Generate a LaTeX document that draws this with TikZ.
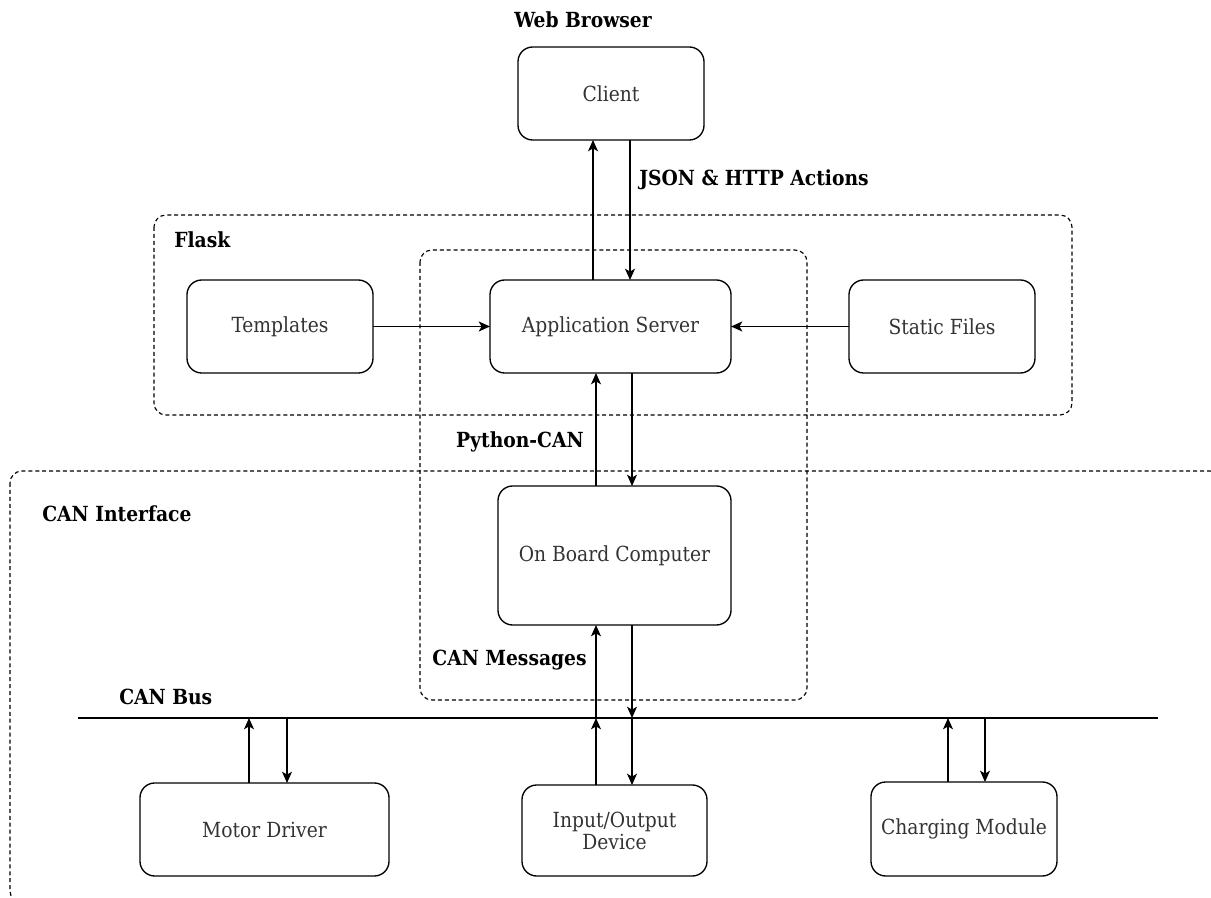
\documentclass[tikz,border=0pt]{standalone}
\usepackage{fontspec}
\setmainfont{DejaVu Serif Condensed}
\usetikzlibrary{arrows.meta}
\begin{document}
\begin{tikzpicture}[x=0.75pt,y=-0.75pt,
  box/.style={draw, line width=1pt, rounded corners=11pt, outer sep=0pt, inner sep=2pt,
    align=center, text=black!80, font=\fontsize{15.6}{16.5}\selectfont},
  group/.style={line width=0.85pt, dash pattern=on 3pt off 2.2pt, rounded corners=9pt},
  lbl/.style={font=\fontsize{15.6}{16.5}\selectfont\bfseries, inner sep=0pt},
  arr/.style={line width=1pt, -{Stealth[length=8.5pt,width=7.5pt,inset=2.2pt]}},
  busline/.style={line width=1pt}]
\useasboundingbox (0,0) rectangle (1211,898);
\clip (0,0) rectangle (1211,898);

% grouping frames
\draw[group] (154,215) rectangle (1072,415);
\draw[group] (420,250) rectangle (807,700);
\draw[group] (10,471) rectangle (1222,903);

% labels
\node[lbl] (wb) at (583,20) {Web Browser};
\node[lbl, anchor=west] (json) at (639,180) {JSON \& HTTP Actions};
\node[lbl, anchor=west] (flask) at (174,240) {Flask};
\node[lbl, anchor=east] (pycan) at (584,442) {Python-CAN};
\node[lbl, anchor=west] (canif) at (42,514) {CAN Interface};
\node[lbl, anchor=east] (canmsg) at (587,660) {CAN Messages};
\node[lbl, anchor=west] (canbus) at (119,697) {CAN Bus};

% components
\node[box, minimum width=139.5pt, minimum height=69.75pt] (client) at (611,93.5) {Client};
\node[box, minimum width=139.5pt, minimum height=69.75pt] (tpl) at (280,326.5) {Templates};
\node[box, minimum width=180.75pt, minimum height=69.75pt] (app) at (610.5,326.5) {Application Server};
\node[box, minimum width=139.5pt, minimum height=69.75pt] (static) at (942,326.5) {Static Files};
\node[box, minimum width=174.75pt, minimum height=104.25pt] (obc) at (614.5,555.5) {On Board Computer};
\node[box, minimum width=186.75pt, minimum height=69.75pt] (motor) at (264.5,829.5) {Motor Driver};
\node[box, minimum width=138.75pt, minimum height=68.25pt] (io) at (614.5,830.5) {Input/Output\\Device};
\node[box, minimum width=139.5pt, minimum height=70.5pt] (chg) at (964,829) {Charging Module};

% CAN bus
\coordinate (busL) at (78,718);
\coordinate (busR) at (1158,718);
\draw[busline] (busL) -- (busR);

% vertical lanes for the paired connectors
\coordinate (u1) at (593,0);  \coordinate (d1) at (630,0);
\coordinate (u2) at (596,0);  \coordinate (d2) at (632,0);
\coordinate (um) at (249,0);  \coordinate (dm) at (287,0);
\coordinate (uc) at (948,0);  \coordinate (dc) at (985,0);

% client <-> application server
\draw[arr] (u1 |- app.north) -- (u1 |- client.south);
\draw[arr] (d1 |- client.south) -- (d1 |- app.north);

% side inputs of the application server
\draw[arr] (tpl.east) -- (app.west);
\draw[arr] (static.west) -- (app.east);

% application server <-> on board computer
\draw[arr] (u2 |- obc.north) -- (u2 |- app.south);
\draw[arr] (d2 |- app.south) -- (d2 |- obc.north);

% on board computer <-> bus
\draw[arr] (u2 |- busL) -- (u2 |- obc.south);
\draw[arr] (d2 |- obc.south) -- (d2 |- busL);

% devices <-> bus
\draw[arr] (u2 |- io.north) -- (u2 |- busL);
\draw[arr] (d2 |- busL) -- (d2 |- io.north);
\draw[arr] (um |- motor.north) -- (um |- busL);
\draw[arr] (dm |- busL) -- (dm |- motor.north);
\draw[arr] (uc |- chg.north) -- (uc |- busL);
\draw[arr] (dc |- busL) -- (dc |- chg.north);
\end{tikzpicture}
\end{document}
